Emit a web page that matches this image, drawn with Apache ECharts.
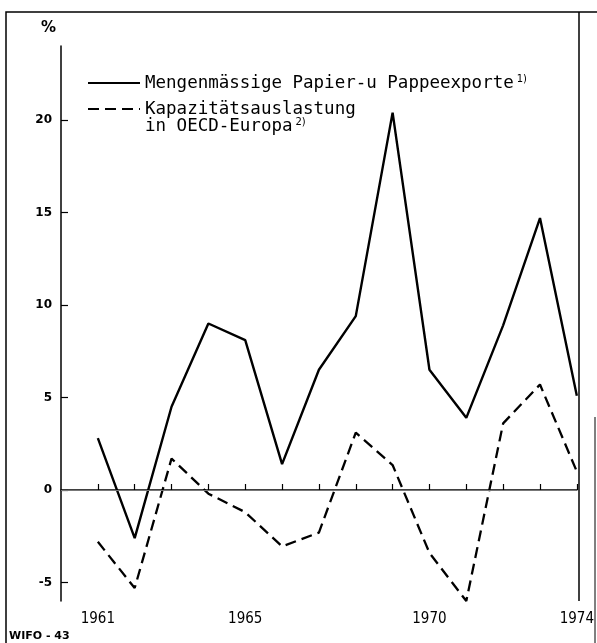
<!DOCTYPE html>
<html>
<head>
<meta charset="utf-8">
<script src="https://cdn.jsdelivr.net/npm/echarts@6/dist/echarts.min.js"></script>
<style>
  html, body { margin: 0; padding: 0; background: #fff; }
  #chart { width: 597px; height: 643px; }
</style>
</head>
<body>
<div id="chart"></div>
<script>
const years = [1961, 1962, 1963, 1964, 1965, 1966, 1967, 1968, 1969, 1970, 1971, 1972, 1973, 1974];
const exportsPct = [2.8, -2.6, 4.5, 9.0, 8.1, 1.4, 6.5, 9.4, 20.4, 6.5, 3.9, 8.9, 14.7, 5.1];
const capacityPct = [-2.8, -5.3, 1.7, -0.2, -1.2, -3.05, -2.3, 3.1, 1.35, -3.4, -6.0, 3.6, 5.7, 1.0];
const yearLabels = [1961, 1965, 1970, 1974];
const yTicks = [-5, 0, 5, 10, 15, 20];

const nameExports = "Mengenmässige Papier-u Pappeexporte";
const nameCapacity = "Kapazitätsauslastung in OECD-Europa";

const font = '"DejaVu Sans", sans-serif';
const legendFont = '"DejaVu Sans Mono", monospace';
const chart = echarts.init(document.getElementById("chart"));

const legendBase = {
  left: 87,
  padding: 0,
  itemWidth: 52,
  itemHeight: 1,
  itemGap: 0,
  itemStyle: { opacity: 0 },
  textStyle: {
    fontFamily: legendFont,
    fontSize: 17.5,
    color: "#000",
    lineHeight: 17,
    rich: {
      t: { fontFamily: legendFont, fontSize: 17.5, lineHeight: 17, color: "#000" },
      s: { fontFamily: font, fontSize: 10, lineHeight: 17, verticalAlign: "top", color: "#000", padding: [0, 0, 0, 3] },
    },
  },
};

chart.setOption({
  animation: false,
  backgroundColor: "#fff",
  grid: { left: 61, right: 19, top: 46, bottom: 42 },
  legend: [
    { ...legendBase, data: [nameExports], top: 74, formatter: (n) => "{t|" + n + "}{s|1)}" },
    {
      ...legendBase,
      data: [nameCapacity],
      top: 83,
      formatter: (n) => {
        const cut = n.indexOf(" in ");
        return "\n{t|" + n.slice(0, cut) + "}\n{t|" + n.slice(cut + 1) + "}{s|2)}";
      },
    },
  ],
  xAxis: {
    type: "value",
    min: 1960,
    max: 1974,
    axisLine: { lineStyle: { color: "#000", width: 1.5 } },
    axisTick: { inside: true, length: 6, customValues: years, lineStyle: { color: "#000", width: 1.2 } },
    axisLabel: {
      customValues: yearLabels,
      formatter: (v) => String(v),
      margin: 11,
      color: "#000",
      fontFamily: '"DejaVu Sans Condensed", "DejaVu Sans", sans-serif',
      fontSize: 15,
    },
    splitLine: { show: false },
  },
  yAxis: {
    type: "value",
    min: -6,
    max: 24,
    name: "%",
    nameLocation: "end",
    nameGap: 10,
    nameTextStyle: { align: "right", padding: [0, 5, 0, 0], color: "#000", fontFamily: font, fontSize: 15, fontWeight: "bold" },
    axisLine: { show: true, lineStyle: { color: "#000", width: 1.5 } },
    axisTick: { show: true, inside: true, length: 7, customValues: yTicks, lineStyle: { color: "#000", width: 1.2 } },
    axisLabel: {
      customValues: yTicks,
      margin: 9,
      color: "#000",
      fontFamily: font,
      fontSize: 12,
      fontWeight: "bold",
    },
    splitLine: { show: false },
  },
  series: [
    {
      name: nameExports,
      type: "line",
      data: years.map((y, i) => [y, exportsPct[i]]),
      symbol: "none",
      lineStyle: { color: "#000", width: 2.4, type: "solid" },
      itemStyle: { color: "#000" },
      markLine: {
        silent: true,
        symbol: "none",
        label: { show: false },
        lineStyle: { color: "#777", width: 1.2, type: "solid" },
        data: [{ yAxis: 0 }],
      },
    },
    {
      name: nameCapacity,
      type: "line",
      data: years.map((y, i) => [y, capacityPct[i]]),
      symbol: "none",
      lineStyle: { color: "#000", width: 2.3, type: [11, 6] },
      itemStyle: { color: "#000" },
    },
  ],
  graphic: [
    {
      type: "polyline",
      shape: { points: [[6, 643], [6, 12], [597, 12]] },
      style: { stroke: "#000", lineWidth: 1.5, fill: null },
    },
    {
      type: "line",
      shape: { x1: 579, y1: 12, x2: 579, y2: 601 },
      style: { stroke: "#000", lineWidth: 1.5 },
    },
    {
      type: "line",
      shape: { x1: 595, y1: 417, x2: 595, y2: 643 },
      style: { stroke: "#000", lineWidth: 1 },
    },
    {
      type: "text",
      left: 9,
      top: 631,
      style: { text: "WIFO - 43", fill: "#000", font: 'bold 11px "DejaVu Sans", sans-serif' },
    },
  ],
});

window.addEventListener("resize", () => chart.resize());
</script>
</body>
</html>
